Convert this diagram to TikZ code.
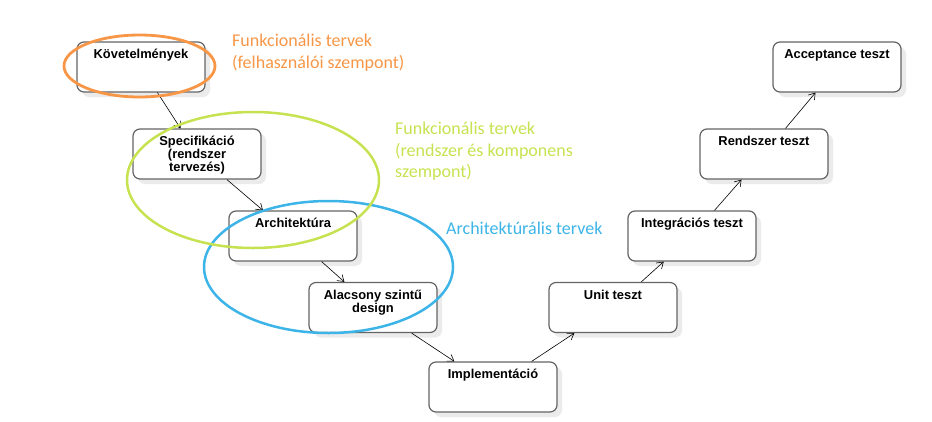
\documentclass[tikz,border=0pt]{standalone}
\usepackage{fontspec}
\setmainfont{Liberation Sans}
\newfontfamily\annfont{Carlito}
\usetikzlibrary{shadows,arrows.meta}
\definecolor{annorange}{RGB}{247,150,70}
\definecolor{anngreen}{RGB}{198,226,80}
\definecolor{annblue}{RGB}{60,180,232}
\definecolor{boxborder}{RGB}{100,100,100}
\newcommand\boxtext[1]{\parbox[t][44pt][t]{122pt}{\centering\fontsize{12.9}{12}\bfseries\rule{0pt}{13.5pt}#1}}
\begin{document}
\begin{tikzpicture}[x=1pt,y=-1pt,
  vbox/.style={draw=boxborder,line width=1.2pt,rounded corners=7pt,fill=white,inner sep=3pt,
    drop shadow={shadow xshift=5pt,shadow yshift=-5pt,fill=black!8,opacity=1}},
  conn/.style={line width=0.6pt,-{Straight Barb[length=6pt,width=8pt]}},
  ann/.style={font=\annfont\fontsize{18}{21.5}\selectfont,anchor=west,align=left,inner sep=0pt}]
\useasboundingbox (0,0) rectangle (932,421);
\node[vbox] (K) at (141,67) {\boxtext{Követelmények}};
\node[vbox] (S) at (197,154) {\boxtext{Specifikáció\\(rendszer\\tervezés)}};
\node[vbox] (A) at (293,236) {\boxtext{Architektúra}};
\node[vbox] (L) at (373,307.5) {\boxtext{Alacsony szintű\\design}};
\node[vbox] (I) at (493,387) {\boxtext{Implementáció}};
\node[vbox] (U) at (613,307.5) {\boxtext{Unit teszt}};
\node[vbox] (G) at (692,236) {\boxtext{Integrációs teszt}};
\node[vbox] (R) at (764,154) {\boxtext{Rendszer teszt}};
\node[vbox] (C) at (837,67) {\boxtext{Acceptance teszt}};
\draw[conn] (K) -- (S);
\draw[conn] (S) -- (A);
\draw[conn] (A) -- (L);
\draw[conn] (L) -- (I);
\draw[conn] (I) -- (U);
\draw[conn] (U) -- (G);
\draw[conn] (G) -- (R);
\draw[conn] (R) -- (C);
\draw[annorange,line width=2.8pt] (139.5,66) ellipse [x radius=75.5pt,y radius=31pt];
\draw[annblue,line width=2.5pt] (328.5,267) ellipse [x radius=124.5pt,y radius=66pt];
\draw[anngreen,line width=2.5pt] (253,180) ellipse [x radius=126pt,y radius=68pt];
\node[ann,text=annorange] (t1) at (232,52.5) {Funkcionális tervek\\(felhasználói szempont)};
\node[ann,text=anngreen] (t2) at (395,151.5) {Funkcionális tervek\\(rendszer és komponens\\szempont)};
\node[ann,text=annblue] (t3) at (446,228) {Architektúrális tervek};
\end{tikzpicture}
\end{document}
